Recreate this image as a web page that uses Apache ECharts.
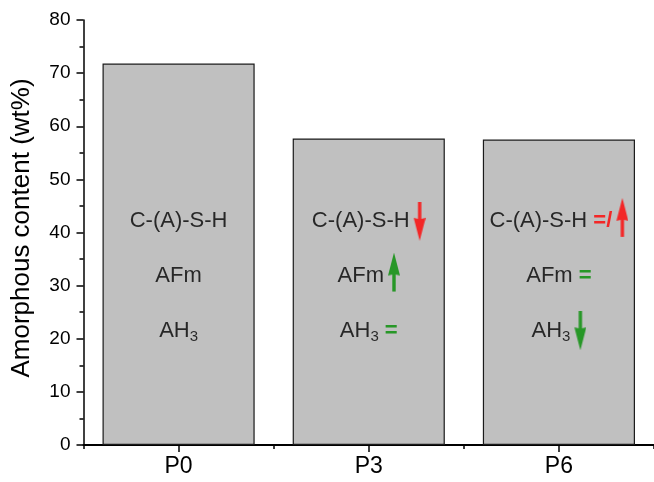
<!DOCTYPE html>
<html><head><meta charset="utf-8">
<script src="https://cdn.jsdelivr.net/npm/echarts@6/dist/echarts.min.js"></script>
<style>html,body{margin:0;padding:0;background:#fff}#c{width:654px;height:482px}</style>
</head><body><div id="c"></div>
<script>
// ---- data ----
const categories = ['P0', 'P3', 'P6'];
const amorphousContent = [71.8, 57.7, 57.5];
const yMin = 0, yMax = 80, yStep = 10;
const yAxisTitle = 'Amorphous content (wt%)';
const phases = ['C-(A)-S-H', 'AFm', 'AH3'];
const phaseLevels = [42.1, 31.8, 21.5];
const trendP0 = ['', '', ''];
const trendP3 = ['down', 'up', '='];
const trendP6 = ['=/up', '=', 'down'];
const trends = [trendP0, trendP3, trendP6];

// ---- styling helpers ----
const FONT = '"Liberation Sans", Arial, sans-serif';
const RED = '#ff0000', GREEN = '#008c00';
const phaseTrendColor = ['R', 'G', 'G'];

function arrowCanvas(color, up) {
  const w = 16, aw = 12, ah = 39, h = up ? 47 : 39;
  const c = document.createElement('canvas');
  c.width = w; c.height = h;
  const g = c.getContext('2d');
  g.fillStyle = color;
  g.save();
  if (!up) { g.translate(0, ah); g.scale(1, -1); }
  const x0 = w - aw;
  const cx = x0 + aw / 2;
  g.beginPath();
  g.moveTo(cx, 0);
  g.lineTo(x0 + aw, 23);
  g.lineTo(cx + 1.7, 22);
  g.lineTo(cx + 1.7, ah);
  g.lineTo(cx - 1.7, ah);
  g.lineTo(cx - 1.7, 22);
  g.lineTo(x0, 23);
  g.closePath();
  g.fill();
  g.restore();
  return c;
}
const arrowImgs = {
  upR: arrowCanvas(RED, true), downR: arrowCanvas(RED, false),
  upG: arrowCanvas(GREEN, true), downG: arrowCanvas(GREEN, false)
};

function phaseText(p) {
  return p.replace(/^([A-Za-z]+)(\d+)$/, '{t|$1}{sub|$2}').replace(/^([^{].*)$/, '{t|$1}');
}
function trendText(tr, col) {
  if (!tr) return '';
  let s = '';
  let rest = tr;
  if (rest.startsWith('=/')) { s += ' {eq' + col + '|=/}'; rest = rest.slice(2); }
  else if (rest.startsWith('=')) { s += ' {eq' + col + '|=}'; rest = rest.slice(1); }
  if (rest === 'up') s += '{up' + col + '|}';
  if (rest === 'down') s += '{down' + col + '|}';
  return s;
}

const noteData = [];
categories.forEach((cat, i) => {
  phases.forEach((ph, r) => {
    noteData.push({ value: [cat, phaseLevels[r]], phase: ph, trend: trends[i][r], col: phaseTrendColor[r] });
  });
});

const rich = {
  t: { fontSize: 22, color: '#000', fontFamily: FONT },
  sub: { fontSize: 15, color: '#000', fontFamily: FONT, padding: [13, 0, 0, 0] },
  eqR: { fontSize: 22, fontWeight: 'bold', color: RED, fontFamily: FONT },
  eqG: { fontSize: 22, fontWeight: 'bold', color: GREEN, fontFamily: FONT },
  upR: { width: 16, height: 47, backgroundColor: { image: arrowImgs.upR } },
  downR: { width: 16, height: 39, backgroundColor: { image: arrowImgs.downR } },
  upG: { width: 16, height: 47, backgroundColor: { image: arrowImgs.upG } },
  downG: { width: 16, height: 39, backgroundColor: { image: arrowImgs.downG } }
};

const chart = echarts.init(document.getElementById('c'), null, { renderer: 'canvas' });
chart.setOption({
  animation: false,
  backgroundColor: '#fff',
  grid: { left: 83.5, right: -5, top: 20, bottom: 37, containLabel: false },
  xAxis: [{
    type: 'category', data: categories, position: 'bottom',
    axisLine: { show: true, lineStyle: { color: '#000', width: 2 } },
    axisTick: { show: true, alignWithLabel: true, length: 7, lineStyle: { color: '#000', width: 1.5 } },
    axisLabel: { fontSize: 23, color: '#000', fontFamily: FONT, margin: 10 },
    splitLine: { show: false }
  }, {
    type: 'category', data: categories, position: 'bottom',
    axisLine: { show: false },
    axisTick: { show: true, length: 4, lineStyle: { color: '#000', width: 1.5 } },
    axisLabel: { show: false },
    splitLine: { show: false }
  }],
  yAxis: {
    type: 'value', min: yMin, max: yMax, interval: yStep,
    axisLine: { show: true, lineStyle: { color: '#000', width: 1.5 } },
    axisTick: { show: true, length: 7, lineStyle: { color: '#000', width: 1.5 } },
    minorTick: { show: true, splitNumber: 2, length: 4, lineStyle: { color: '#000', width: 1.5 } },
    axisLabel: { fontSize: 19, color: '#000', fontFamily: FONT, margin: 13 },
    splitLine: { show: false }
  },
  graphic: [{
    type: 'text', x: 22, y: 228, rotation: Math.PI / 2,
    style: { text: yAxisTitle, fontSize: 26, fontFamily: FONT, fill: '#000', align: 'center', verticalAlign: 'middle' }
  }],
  series: [{
    type: 'bar', data: amorphousContent, barWidth: '80%',
    itemStyle: { color: '#c0c0c0', borderColor: '#1a1a1a', borderWidth: 1.2 },
    silent: true
  }, {
    type: 'scatter', data: noteData, symbolSize: 0, z: 5, silent: true,
    label: {
      show: true, position: 'inside', fontSize: 22, fontFamily: FONT, color: '#000',
      formatter: p => phaseText(p.data.phase) + trendText(p.data.trend, p.data.col),
      rich: rich
    }
  }]
});
</script></body></html>
